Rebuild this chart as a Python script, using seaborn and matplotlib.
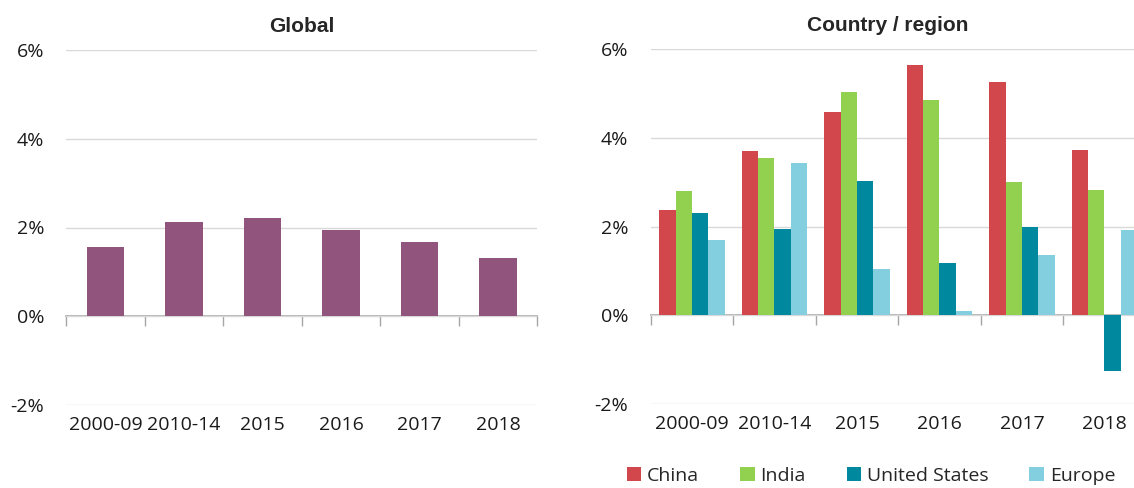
import matplotlib
matplotlib.use("Agg")
import matplotlib.pyplot as plt
import seaborn as sns
import pandas as pd
from matplotlib.ticker import FixedLocator, FuncFormatter

periods = ["2000-09", "2010-14", "2015", "2016", "2017", "2018"]
global_growth = [1.57, 2.12, 2.21, 1.95, 1.68, 1.31]
regions = ["China", "India", "United States", "Europe"]
china = [2.37, 3.70, 4.57, 5.63, 5.25, 3.73]
india = [2.80, 3.55, 5.02, 4.85, 3.00, 2.83]
united_states = [2.30, 1.95, 3.03, 1.18, 1.98, -1.25]
europe = [1.70, 3.42, 1.05, 0.10, 1.35, 1.92]
y_ticks = [-2, 0, 2, 4, 6]

global_color = "#91557D"
region_colors = ["#D1474B", "#92D050", "#00889E", "#83CFE0"]

sns.set_theme(style="white")
plt.rcParams["font.family"] = ["Open Sans", "DejaVu Sans"]

fig = plt.figure(figsize=(11.34, 4.88), dpi=100)
ax1 = fig.add_axes([66.4 / 1134, 1 - 405 / 488, (537.3 - 66.4) / 1134, (405 - 50) / 488])
ax2 = fig.add_axes([650.7 / 1134, 1 - 404 / 488, 495 / 1134, (404 - 49) / 488])

df_g = pd.DataFrame({"period": periods, "growth": global_growth})
sns.barplot(data=df_g, x="period", y="growth", color=global_color, width=0.48,
            saturation=1, linewidth=0, ax=ax1)

rows = []
for name, vals in zip(regions, [china, india, united_states, europe]):
    for p, v in zip(periods, vals):
        rows.append({"period": p, "region": name, "growth": v})
df_r = pd.DataFrame(rows)
sns.barplot(data=df_r, x="period", y="growth", hue="region", hue_order=regions,
            palette=region_colors, width=0.79, saturation=1, linewidth=0, ax=ax2)

tick_font = 14
for ax in (ax1, ax2):
    ax.set_ylim(-2, 6)
    ax.set_xlim(-0.5, 5.5)
    ax.yaxis.set_major_locator(FixedLocator(y_ticks))
    ax.yaxis.set_major_formatter(FuncFormatter(lambda v, p: f"{int(v)}%"))
    ax.grid(axis="y", color="#D9D9D9", linewidth=1)
    ax.set_axisbelow(True)
    for s in ax.spines.values():
        s.set_visible(False)
    ax.tick_params(axis="y", length=0, pad=16, labelsize=tick_font, labelcolor="#1a1a1a")
    ax.tick_params(axis="x", length=0, pad=8, labelsize=tick_font, labelcolor="#1a1a1a")
    ax.set_xlabel("")
    ax.set_ylabel("")
    # zero axis line with category boundary ticks
    sec = ax.secondary_xaxis(0.25)
    sec.spines["bottom"].set_color("#A6A6A6")
    sec.spines["bottom"].set_linewidth(1.2)
    sec.set_xticks([i - 0.5 for i in range(len(periods) + 1)])
    sec.set_xticklabels([])
    sec.tick_params(axis="x", length=7, width=1, color="#A6A6A6", direction="out")

ax1.set_title("Global", fontsize=15, fontweight="bold", family="Liberation Sans", pad=13)
ax2.set_title("Country / region", fontsize=15, fontweight="bold", family="Liberation Sans",
              pad=13, x=(888 - 650.7) / 495)

handles, labels = ax2.get_legend_handles_labels()
ax2.get_legend().remove()
fig.legend(handles, labels, loc="center", bbox_to_anchor=(871 / 1134, 1 - 476 / 488),
           ncol=4, frameon=False, fontsize=tick_font, handlelength=0.75, handleheight=0.75,
           handletextpad=0.3, columnspacing=2.1, borderaxespad=0, borderpad=0)

fig.savefig("out.png", dpi=100)
